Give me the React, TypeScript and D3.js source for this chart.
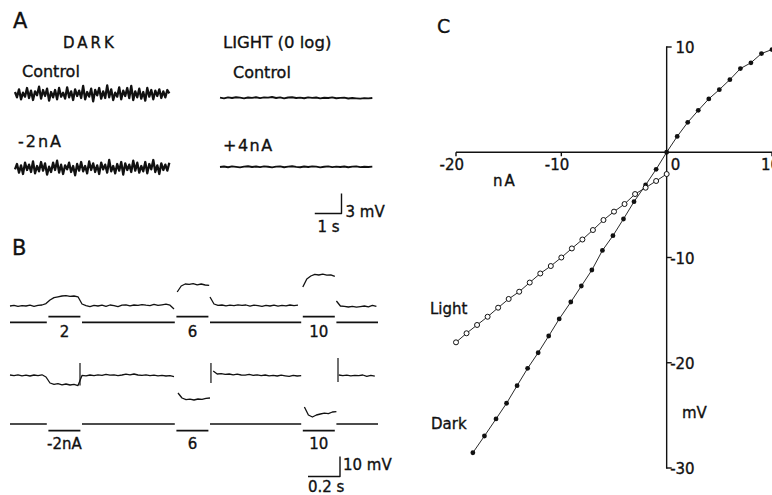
import React from "react";
import * as d3 from "d3";

const FONT = "'DejaVu Sans', sans-serif";
const INK = "#111";

// ---------- panel A: noise records (mV about each record's own level)
const darkDt = 0.075; // s between samples
const lightDt = 0.15;
const darkControl = [
  0.3, -0.5, 0.7, -0.8, 0.2, -0.4, 0.9, -0.6, 0.5, -0.9,
  0.4, -0.2, 1.1, -0.7, 0.6, -0.3, 0.8, -1.0, 0.3, -0.5,
  0.6, -0.8, 0.9, -0.4, 0.2, -0.7, 1.0, -0.5, 0.4, -0.9,
  0.7, -0.3, 0.5, -0.6, 1.2, -0.8, 0.3, -0.4, 0.8, -1.1,
  0.6, -0.2, 0.9, -0.7, 0.4, -0.6, 1.3, -0.5, 0.7, -0.9,
  0.2, -0.4, 1.0, -0.8, 0.5, -0.3, 0.9, -0.6, 1.2, -0.9,
  0.4, -0.5, 0.8, -0.7, 0.3, -1.0, 0.9, -0.4, 0.6, -0.8,
  0.5, -0.3, 0.7, -0.6, 0.4, -0.5, 0.6, 0.1,
];
const darkMinus2nA = [
  -0.2, 0.6, -0.7, 0.4, -0.9, 0.8, -0.3, 0.5, -0.6, 1.0,
  -0.8, 0.3, -0.5, 0.9, -0.4, 0.7, -1.0, 0.2, -0.6, 0.8,
  -0.3, 1.1, -0.7, 0.5, -0.9, 0.4, -0.2, 0.8, -0.6, 0.3,
  -1.1, 0.6, -0.4, 0.9, -0.5, 0.3, -0.8, 1.0, -0.3, 0.7,
  -0.6, 0.4, -0.9, 0.8, -0.2, 0.5, -0.7, 1.2, -0.5, 0.3,
  -0.8, 0.6, -0.4, 0.9, -1.0, 0.7, -0.3, 0.5, -0.6, 1.1,
  -0.4, 0.8, -0.7, 0.3, -0.5, 0.9, -0.8, 0.6, -0.2, 1.2,
  -0.6, 0.4, -0.9, 0.7, -0.3, 0.5, -0.4, 0.8,
];
const lightControl = [
  0.05, -0.05, 0.1, 0, 0.12, 0.05, -0.05, 0.08, 0.02, 0.12,
  -0.02, 0.1, 0.05, 0.15, 0, 0.1, -0.05, 0.08, 0.12, 0,
  0.06, -0.04, 0.1, 0.02, 0.08, -0.06, 0.04, 0, 0.1, -0.04,
  0.02, 0.06, -0.08, 0, -0.05, -0.1, -0.02, -0.06, 0,
];
const lightPlus4nA = [
  0, 0.08, -0.04, 0.1, 0.02, -0.06, 0.06, 0.12, 0, 0.08,
  -0.02, 0.1, 0.04, -0.05, 0.06, 0.1, -0.03, 0.05, 0.12, 0.02,
  -0.04, 0.08, 0, 0.1, 0.05, -0.06, 0.04, 0.1, -0.02, 0.06,
  0, 0.08, -0.04, 0.05, 0.1, -0.02, 0.04, 0, 0.06,
];

// ---------- panel B: current pulses and voltage records
const pulseStarts = [0.24, 1.04, 1.83]; // s
const pulseWidth = 0.2;
const topCurrents = [2, 6, 10]; // nA
const bottomCurrents = [-2, -6, -10];
const topLabels = ["2", "6", "10"];
const bottomLabels = ["-2nA", "6", "10"];
const traceDt = 0.025;

const topStarts = [0, 1.045, 1.25, 1.83, 2.04];
const topRest = [
  0, 0.3, -0.2, 0.2, 0, 0.4, -0.2, 0.3, 0.5, 1.2,
  3.0, 4.2, 4.6, 5.0, 5.2, 4.8, 5.0, 4.6, 1.0, 0.2,
  -0.3, 0.3, 0, 0.4, -0.2, 0.5, 0.2, -0.3, 0.4, 0.6,
  0.1, 0.5, 0.3, 0.7, 0.4, 0.2, 0.8, 0.3, 0.6, 0.9,
  0.4, -1.5,
];
const topPulse6 = [7.0, 10.0, 11.0, 10.8, 11.2, 10.6, 11.0, 10.5, 10.3];
const topAfter6 = [
  4.5, 1.0, 0.3, 0.5, 0.1, 0.4, 0.2, 0.6, 0.3, 0.5,
  -0.1, 0.4, 0.2, -0.2, 0.3, 0, 0.4, -0.1, 0.3, 0.1,
  0.5, 0.2, 0.4,
];
const topPulse10 = [9.5, 13.5, 15.0, 15.8, 15.5, 15.9, 15.4, 15.6, 14.8];
const topAfter10 = [2.5, 0, -0.2, -0.5, -0.2, -0.6, -0.3, 0, -0.4, 0.3, -0.2];

const bottomStarts = [0, 1.05, 1.27, 1.84, 2.055];
const bottomRest = [
  0.5, 0.2, 0.6, 0.1, 0.4, 0, 0.5, 0.2, 0.6, -0.5,
  -3.5, -4.2, -3.8, -4.4, -4.0, -4.5, -4.2, -4.8, 0.3, 0.1,
  0.5, 0.2, 0.6, 0.3, 0.8, 0.4, 0.6, 0.2, 0.5, 0.9,
  0.6, 1.0, 0.5, 0.3, 0.6, 0.2, 0.4, 0.1, 0.3, 0,
  0.2, -0.3,
];
const bottomPulse6 = [-8.5, -11.0, -11.8, -11.6, -12.0, -11.5, -11.7, -11.2, -11.0];
const bottomAfter6 = [
  2.5, 1.0, 1.2, 0.8, 1.0, 0.6, 0.9, 0.5, 0.4, 0.8,
  0.3, 0.6, 0.2, 0.5, 0.1, 0.3, 0, 0.4, 0.1, -0.2,
  0.3, 0, 0.2,
];
const bottomPulse10 = [-15.5, -19.5, -20.5, -19.5, -19.0, -18.6, -18.8, -18.0, -17.8];
const bottomAfter10 = [0.5, 0.2, 0.4, 0.1, 0.3, 0.2, 0.5, -0.2, 0.3, -0.1];
const spikeTimes = [0.4375, 1.256, 2.05];
const spikeLow = [-4.8, -3.5, -3.0];
const spikeHigh = [6.5, 6.5, 9.0];

// ---------- panel C: I-V relations
const darkCurrent = [
  -18.4, -17.3, -16.2, -15.2, -14.2, -13.2, -12.2, -11.2, -10.2, -9.1,
  -8.1, -7.1, -6.1, -5.1, -4.1, -3.1, -2, -1, 0, 1,
  2, 3, 4, 5, 6, 7, 8, 9, 10,
];
const darkVoltage = [
  -28.55, -26.96, -25.34, -23.85, -22.18, -20.53, -19.05, -17.46, -15.84, -14.23,
  -12.71, -11.19, -9.33, -7.93, -6.34, -4.7, -3.11, -1.62, 0, 1.5,
  2.84, 3.98, 5.07, 5.95, 6.9, 7.95, 8.5, 9.38, 9.76,
];
const lightCurrent = [
  0, -1, -2, -3, -4, -5, -6, -7, -8, -9, -10,
  -11, -12, -13, -14, -15, -16, -17, -18, -19, -20,
];
const lightVoltage = [
  -2.07, -2.73, -3.37, -3.97, -4.92, -5.64, -6.44, -7.39, -8.29, -9.14, -10.0,
  -10.81, -11.52, -12.38, -13.25, -13.94, -14.77, -15.63, -16.41, -17.2, -18.06,
];
const xTicksC = [-20, -10, 0, 10];
const yTicksC = [10, -10, -20, -30];

type Scale = d3.ScaleLinear<number, number>;

function recordPath(values: number[], t0: number, dt: number, x: Scale, y: Scale) {
  return d3
    .line<number>()
    .x((_, i) => x(t0 + i * dt))
    .y((d) => y(d))(values) as string;
}

function currentPieces(currents: number[], end: number) {
  const gap = 0.01;
  const pieces: [number, number, number][] = [];
  let t = 0;
  pulseStarts.forEach((s, i) => {
    pieces.push([t, s - gap, 0]);
    pieces.push([s, s + pulseWidth, currents[i]]);
    t = s + pulseWidth + gap;
  });
  pieces.push([t, end, 0]);
  return pieces;
}

export default function App() {
  // ----- panel A scales
  const xDark = d3.scaleLinear().domain([0, 5.8]).range([15, 170]);
  const xLight = d3.scaleLinear().domain([0, 5.8]).range([220, 375]);
  const yAt = (level: number) => d3.scaleLinear().domain([-3, 3]).range([level + 20, level - 20]);
  const yDarkCtl = yAt(94);
  const yDarkInj = yAt(168);
  const yLightCtl = yAt(98);
  const yLightInj = yAt(167);
  const barA = { x: 341.5, y: 213.5 };
  const barAw = xDark(1) - xDark(0);
  const barAh = yDarkCtl(0) - yDarkCtl(3);

  // ----- panel B scales
  const tEnd = 2.3;
  const xB = d3.scaleLinear().domain([0, tEnd]).range([10, 378]);
  const yTopV = d3.scaleLinear().domain([0, 10]).range([306, 286]);
  const yBotV = d3.scaleLinear().domain([0, 10]).range([376, 356]);
  const yTopI = d3.scaleLinear().domain([0, 2]).range([322.3, 316.7]).clamp(true);
  const yBotI = d3.scaleLinear().domain([0, -2]).range([424, 430.7]).clamp(true);
  const topSegs = [topRest, topPulse6, topAfter6, topPulse10, topAfter10];
  const botSegs = [bottomRest, bottomPulse6, bottomAfter6, bottomPulse10, bottomAfter10];
  const barB = { x: 340, y: 476.5 };
  const barBw = xB(0.2) - xB(0);
  const barBh = yTopV(0) - yTopV(10);

  // ----- panel C scales
  const xC = d3.scaleLinear().domain([-20, 10]).range([456, 772]);
  const yC = d3.scaleLinear().domain([-30, 10]).range([468, 47]);
  const darkPts = darkCurrent.map((c, i) => [xC(c), yC(darkVoltage[i])] as [number, number]);
  const lightPts = lightCurrent.map((c, i) => [xC(c), yC(lightVoltage[i])] as [number, number]);
  const line = d3.line();

  // print-like text: a hairline stroke thickens the glyphs a little
  const txt = { fontFamily: FONT, fill: INK, stroke: INK, strokeWidth: 0.35 };

  return (
    <svg
      width={772}
      height={495}
      viewBox="0 0 772 495"
      style={{ position: "absolute", left: 0, top: 0, background: "#fff" }}
    >
      <rect width={772} height={495} fill="#fff" />

      {/* ================= A ================= */}
      <text x={13} y={28} fontSize={21} {...txt}>A</text>
      <text x={63} y={48} fontSize={15} letterSpacing={3} {...txt}>DARK</text>
      <text x={223} y={48} fontSize={16.5} {...txt}>LIGHT (0 log)</text>
      <text x={22} y={77} fontSize={16} {...txt}>Control</text>
      <text x={233} y={78} fontSize={16} {...txt}>Control</text>
      <text x={18} y={147} fontSize={16} letterSpacing={2} {...txt}>-2nA</text>
      <text x={223} y={151} fontSize={16} letterSpacing={1.5} {...txt}>+4nA</text>

      <g fill="none" stroke={INK} strokeLinejoin="round">
        <path d={recordPath(darkControl, 0, darkDt, xDark, yDarkCtl)} strokeWidth={2.3} />
        <path d={recordPath(darkMinus2nA, 0, darkDt, xDark, yDarkInj)} strokeWidth={2.3} />
        <path d={recordPath(lightControl, 0, lightDt, xLight, yLightCtl)} strokeWidth={1.9} />
        <path d={recordPath(lightPlus4nA, 0, lightDt, xLight, yLightInj)} strokeWidth={1.9} />
        <path
          d={`M${barA.x - barAw},${barA.y}H${barA.x}V${barA.y - barAh}`}
          strokeWidth={1.4}
        />
      </g>
      <text x={barA.x + 4} y={barA.y + 3} fontSize={15} {...txt}>3 mV</text>
      <text x={barA.x - 24} y={barA.y + 18} fontSize={15} {...txt}>1 s</text>

      {/* ================= B ================= */}
      <text x={12} y={255} fontSize={21} {...txt}>B</text>
      <g fill="none" stroke={INK} strokeLinejoin="round">
        {topSegs.map((seg, i) => (
          <path key={`tv${i}`} d={recordPath(seg, topStarts[i], traceDt, xB, yTopV)} strokeWidth={1.3} />
        ))}
        {botSegs.map((seg, i) => (
          <path key={`bv${i}`} d={recordPath(seg, bottomStarts[i], traceDt, xB, yBotV)} strokeWidth={1.3} />
        ))}
        {spikeTimes.map((t, i) => (
          <line
            key={`sp${i}`}
            x1={xB(t)}
            x2={xB(t)}
            y1={yBotV(spikeLow[i])}
            y2={yBotV(spikeHigh[i])}
            strokeWidth={1.2}
          />
        ))}
        {currentPieces(topCurrents, tEnd).map(([a, b, c], i) => (
          <line key={`ti${i}`} x1={xB(a)} x2={xB(b)} y1={yTopI(c)} y2={yTopI(c)} strokeWidth={1.7} />
        ))}
        {currentPieces(bottomCurrents, tEnd).map(([a, b, c], i) => (
          <line key={`bi${i}`} x1={xB(a)} x2={xB(b)} y1={yBotI(c)} y2={yBotI(c)} strokeWidth={1.7} />
        ))}
        <path
          d={`M${barB.x - barBw},${barB.y}H${barB.x}V${barB.y - barBh}`}
          strokeWidth={1.4}
        />
      </g>
      {topLabels.map((l, i) => (
        <text key={`tl${i}`} x={xB(pulseStarts[i] + pulseWidth / 2)} y={337} fontSize={15} textAnchor="middle" {...txt}>
          {l}
        </text>
      ))}
      {bottomLabels.map((l, i) => (
        <text key={`bl${i}`} x={xB(pulseStarts[i] + pulseWidth / 2)} y={449} fontSize={15} textAnchor="middle" {...txt}>
          {l}
        </text>
      ))}
      <text x={barB.x + 3} y={barB.y - 7} fontSize={15} {...txt}>10 mV</text>
      <text x={barB.x - barBw} y={barB.y + 15} fontSize={15} {...txt}>0.2 s</text>

      {/* ================= C ================= */}
      <text x={437} y={33} fontSize={19} {...txt}>C</text>
      <g fill="none" stroke={INK} strokeWidth={1.4}>
        <line x1={xC(-20)} x2={xC(10) + 2} y1={yC(0)} y2={yC(0)} />
        <line x1={xC(0)} x2={xC(0)} y1={yC(10) - 0.7} y2={yC(-30) + 0.7} />
        {xTicksC.filter((t) => t !== 0).map((t) => (
          <line key={`xt${t}`} x1={xC(t)} x2={xC(t)} y1={yC(0)} y2={yC(0) + 4} />
        ))}
        {yTicksC.map((t) => (
          <line key={`yt${t}`} x1={xC(0)} x2={xC(0) + 5} y1={yC(t)} y2={yC(t)} />
        ))}
      </g>
      {xTicksC.map((t) => (
        <text
          key={`xl${t}`}
          x={t === 0 ? xC(t) + 4 : xC(t) + 8}
          y={yC(0) + 18}
          fontSize={15}
          textAnchor={t === 0 ? "start" : "end"}
          {...txt}
        >
          {t < 0 ? `-${-t}` : `${t}`}
        </text>
      ))}
      {yTicksC.map((t) => (
        <text key={`yl${t}`} x={xC(0) + 28} y={yC(t) + 6} fontSize={15} textAnchor="end" {...txt}>
          {t < 0 ? `-${-t}` : `${t}`}
        </text>
      ))}
      <text x={493} y={186} fontSize={15} letterSpacing={2} {...txt}>nA</text>
      <text x={682} y={418} fontSize={15} {...txt}>mV</text>
      <text x={430} y={314} fontSize={15} {...txt}>Light</text>
      <text x={431} y={429} fontSize={15} {...txt}>Dark</text>

      <g fill="none" stroke={INK} strokeWidth={0.9}>
        <path d={line(darkPts) as string} />
        <path d={line(lightPts) as string} />
      </g>
      {darkPts.map(([x, y], i) => (
        <circle key={`dp${i}`} cx={x} cy={y} r={2.4} fill={INK} />
      ))}
      {lightPts.map(([x, y], i) => (
        <circle key={`lp${i}`} cx={x} cy={y} r={2.5} fill="#fff" stroke={INK} strokeWidth={1} />
      ))}
    </svg>
  );
}
